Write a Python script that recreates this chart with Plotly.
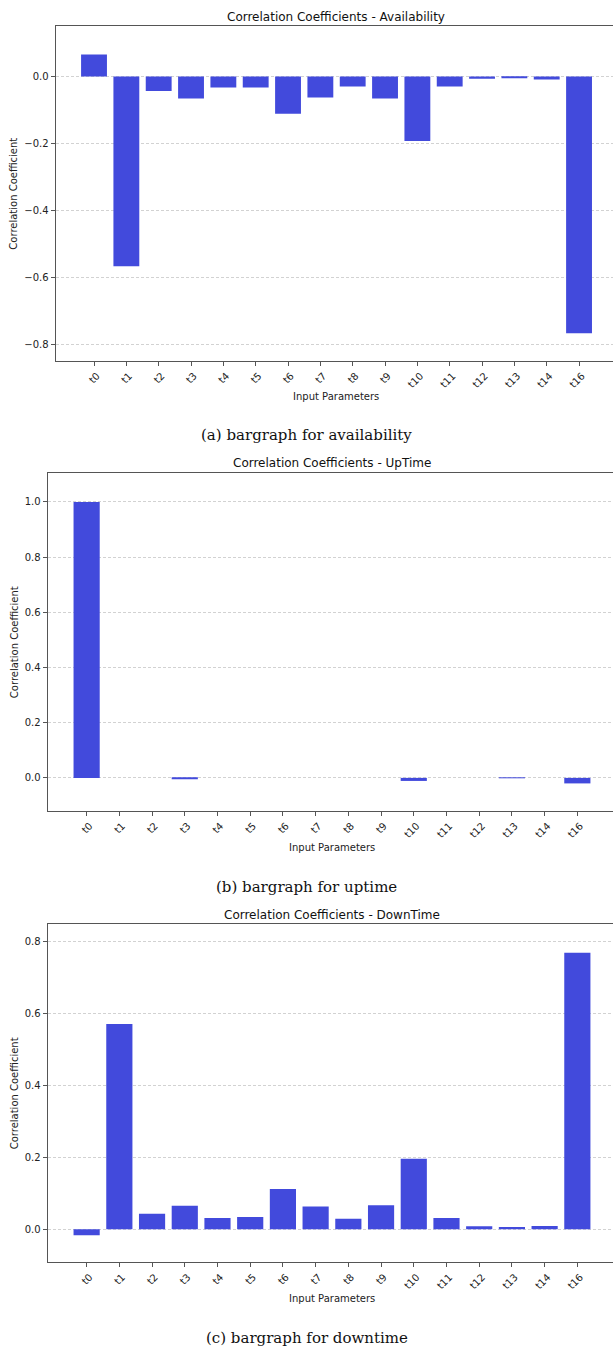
import plotly.graph_objects as go

W, H = 613, 1347

categories = ["t0", "t1", "t2", "t3", "t4", "t5", "t6", "t7", "t8", "t9",
              "t10", "t11", "t12", "t13", "t14", "t16"]

availability = [0.066, -0.567, -0.043, -0.066, -0.033, -0.033, -0.111, -0.063,
                -0.030, -0.066, -0.193, -0.030, -0.007, -0.004, -0.009, -0.767]
uptime = [1.0, 0.0, 0.0, -0.002, 0.0, 0.0, 0.0, 0.0,
          0.0, 0.0, -0.011, 0.0, 0.0, 0.002, 0.0, -0.020]
downtime = [-0.017, 0.571, 0.043, 0.065, 0.031, 0.034, 0.112, 0.063,
            0.029, 0.067, 0.196, 0.031, 0.008, 0.006, 0.009, 0.769]

titles = ["Correlation Coefficients - Availability",
          "Correlation Coefficients - UpTime",
          "Correlation Coefficients - DownTime"]
captions = ["(a) bargraph for availability",
            "(b) bargraph for uptime",
            "(c) bargraph for downtime"]
y_ticks = [[-0.8, -0.6, -0.4, -0.2, 0.0],
           [0.0, 0.2, 0.4, 0.6, 0.8, 1.0],
           [0.0, 0.2, 0.4, 0.6, 0.8]]
x_title = "Input Parameters"
y_title = "Correlation Coefficient"

series = [availability, uptime, downtime]

# layout in pixels
panels = [
    dict(left=55.7, top=26.3, bottom=361.0, yr=[-0.85, 0.15], xr=[-1.185, 16.05],
         title_y=16.7, xt_y=396.0, cap_y=435.0),
    dict(left=47.7, top=473.3, bottom=811.0, yr=[-0.12, 1.104], xr=[-1.19, 16.09],
         title_y=463.3, xt_y=847.3, cap_y=886.7),
    dict(left=47.7, top=924.3, bottom=1262.3, yr=[-0.092, 0.848], xr=[-1.19, 16.09],
         title_y=915.0, xt_y=1298.3, cap_y=1338.3),
]

BAR = "rgb(66,74,220)"
FONT = "DejaVu Sans"
AXC = "#555555"

fig = go.Figure()
annotations = []
layout = dict(width=W, height=H, margin=dict(l=0, r=0, t=0, b=0),
              paper_bgcolor="white", plot_bgcolor="white", showlegend=False,
              font=dict(family=FONT, size=10, color="#222222"), bargap=0.2)

for i, (p, vals) in enumerate(zip(panels, series)):
    n = "" if i == 0 else str(i + 1)
    fig.add_trace(go.Bar(x=categories, y=vals, marker=dict(color=BAR, line=dict(width=0)),
                         width=0.8, xaxis="x" + n, yaxis="y" + n))
    layout["xaxis" + n] = dict(
        domain=[p["left"] / W, 1.0], anchor="y" + n, range=p["xr"],
        type="category", categoryorder="array", categoryarray=categories,
        showline=True, linecolor=AXC, linewidth=1.2, mirror=True,
        ticks="outside", ticklen=4, tickcolor=AXC, tickangle=-45, ticklabelshift=3,
        showgrid=False, zeroline=False, tickfont=dict(size=10, family=FONT, color="#222"))
    layout["yaxis" + n] = dict(
        domain=[1 - p["bottom"] / H, 1 - p["top"] / H], anchor="x" + n, range=p["yr"],
        tickvals=y_ticks[i], tickformat=".1f",
        showline=True, linecolor=AXC, linewidth=1.2, mirror=False,
        ticks="outside", ticklen=4, tickcolor=AXC,
        showgrid=True, gridcolor="#d2d2d2", griddash="3px,2px", gridwidth=0.8,
        zeroline=False, tickfont=dict(size=10, family=FONT, color="#222"))
    cx = (p["left"] + 617) / 2 / W
    annotations.append(dict(text=titles[i], x=cx, y=1 - p["title_y"] / H, xref="paper", yref="paper",
                            showarrow=False, xanchor="center", yanchor="middle",
                            font=dict(size=12, family=FONT, color="#111")))
    annotations.append(dict(text=x_title, x=cx, y=1 - p["xt_y"] / H, xref="paper", yref="paper",
                            showarrow=False, xanchor="center", yanchor="middle",
                            font=dict(size=10, family=FONT, color="#222")))
    annotations.append(dict(text=y_title, x=14 / W, y=1 - (p["top"] + p["bottom"]) / 2 / H,
                            xref="paper", yref="paper", textangle=-90,
                            showarrow=False, xanchor="center", yanchor="middle",
                            font=dict(size=10, family=FONT, color="#222")))
    annotations.append(dict(text=captions[i], x=0.5, y=1 - p["cap_y"] / H, xref="paper", yref="paper",
                            showarrow=False, xanchor="center", yanchor="middle",
                            font=dict(size=15, family="DejaVu Serif", color="#111")))

layout["annotations"] = annotations
fig.update_layout(**layout)
fig.write_html("out.html")
